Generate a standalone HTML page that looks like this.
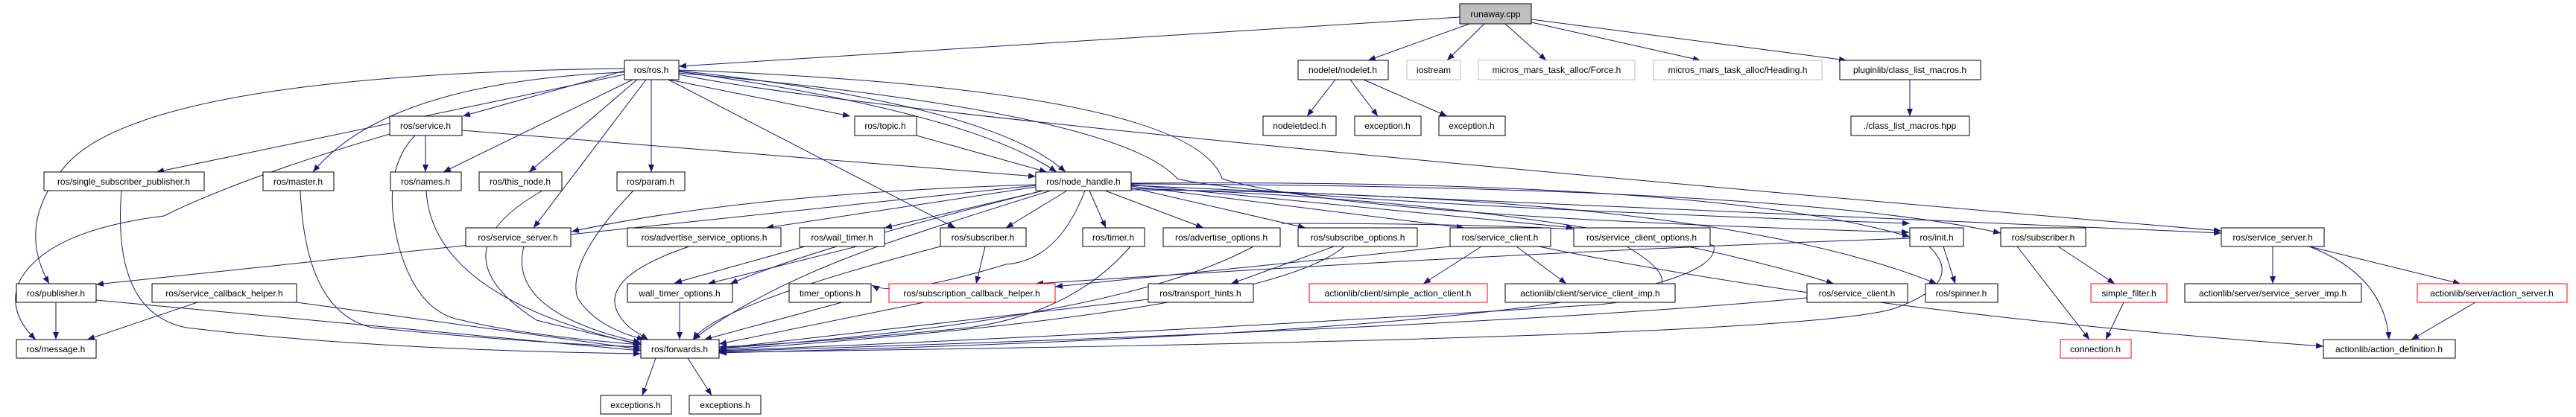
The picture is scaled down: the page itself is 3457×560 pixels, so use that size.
<!DOCTYPE html>
<html><head><meta charset="utf-8"><style>
html,body{margin:0;padding:0;background:#fff;}
svg{display:block;}
text{font-family:"Liberation Sans",sans-serif;font-size:12px;text-anchor:middle;fill:#000;}
.e{fill:none;stroke:#191970;stroke-width:1;}
.n{fill:#fff;stroke:#000;stroke-width:1;}
.g{fill:#fff;stroke:#bfbfbf;stroke-width:1;}
.r{fill:#fff;stroke:#ff0000;stroke-width:1;}
</style></head><body>
<svg width="3457" height="560" viewBox="0 0 3457 560" xmlns="http://www.w3.org/2000/svg">
<defs><marker id="a" markerWidth="10" markerHeight="8" refX="10" refY="4" orient="auto" markerUnits="userSpaceOnUse"><path d="M0,0 L10,4 L0,8 z" fill="#191970"/></marker></defs>
<g class="e" marker-end="url(#a)">
<path d="M1959,23 L911,89"/>
<path d="M1972,32 L1836,81"/>
<path d="M1992,32 L1942,81"/>
<path d="M2020,32 L2075,81"/>
<path d="M2055,30 L2282,81"/>
<path d="M2055,26 L2478,81"/>
<path d="M1792,107 L1754,156"/>
<path d="M1812,107 L1849,156"/>
<path d="M1830,107 L1942,156"/>
<path d="M2563,107 L2563,156"/>
<path d="M838,95 L621,156"/>
<path d="M838,100 L210,231"/>
<path d="M838,97 Q520,110 420,231"/>
<path d="M849,107 L595,231"/>
<path d="M855,107 L710,231"/>
<path d="M874,107 L874,231"/>
<path d="M838,92 Q200,100 90,220 Q20,300 66,381"/>
<path d="M867,107 L716,306"/>
<path d="M898,107 L1141,156"/>
<path d="M911,96 Q1300,150 1418,231"/>
<path d="M911,95 Q1330,140 1430,231"/>
<path d="M897,107 L1282,306"/>
<path d="M911,98 Q1500,150 1580,240 Q1700,270 2563,300"/>
<path d="M911,94 Q1600,120 1640,240 Q1800,290 2562,312"/>
<path d="M911,100 Q1200,160 2981,310"/>
<path d="M571,182 L571,231"/>
<path d="M620,175 L1390,237"/>
<path d="M523,180 Q320,240 220,290 Q60,310 25,380 Q10,420 48,456"/>
<path d="M557,182 Q510,230 535,330 Q560,420 620,430 Q700,450 860,463"/>
<path d="M1230,182 L1405,231"/>
<path d="M1390,248 Q1000,260 767,311"/>
<path d="M1390,249 L129,382"/>
<path d="M1390,251 L1028,306"/>
<path d="M1400,256 L1187,306"/>
<path d="M1432,256 L1350,306"/>
<path d="M1462,256 L1484,306"/>
<path d="M1483,256 L1615,306"/>
<path d="M1518,252 L1752,306"/>
<path d="M1518,250 L1965,306"/>
<path d="M1518,248 L2112,306"/>
<path d="M1518,246 Q2300,240 2563,318"/>
<path d="M1518,247 Q2400,250 2685,313"/>
<path d="M1518,249 L2981,313"/>
<path d="M1518,253 Q2100,270 2461,381"/>
<path d="M1518,255 Q2300,260 2599,381"/>
<path d="M1410,256 Q1300,290 1210,320 Q1030,380 930,456"/>
<path d="M1456,256 Q1420,350 1350,355 Q1200,400 1170,383"/>
<path d="M1400,256 Q1100,330 980,381"/>
<path d="M2563,320 Q2000,340 1390,381"/>
<path d="M1150,331 L950,381"/>
<path d="M1322,331 L1310,381"/>
<path d="M1790,331 L1652,381"/>
<path d="M1946,331 L1416,385"/>
<path d="M1988,331 L1910,381"/>
<path d="M2035,331 L2102,381"/>
<path d="M2065,331 Q2500,420 3118,465"/>
<path d="M2608,331 L2624,381"/>
<path d="M2707,331 L2804,456"/>
<path d="M2762,331 L2838,381"/>
<path d="M2850,406 L2826,456"/>
<path d="M3050,331 L3050,381"/>
<path d="M3099,331 L3302,381"/>
<path d="M3099,331 Q3200,370 3206,456"/>
<path d="M3322,406 L3236,456"/>
<path d="M75,406 L75,456"/>
<path d="M129,403 L860,471"/>
<path d="M265,406 L117,456"/>
<path d="M398,406 L860,469"/>
<path d="M163,256 Q150,420 250,440 Q500,470 860,475"/>
<path d="M403,256 Q410,420 500,440 Q700,460 860,466"/>
<path d="M572,256 Q580,400 860,463"/>
<path d="M728,256 Q580,340 720,430 Q800,450 860,462"/>
<path d="M703,331 Q680,420 860,460"/>
<path d="M850,256 Q760,350 775,400 Q800,440 865,456"/>
<path d="M925,331 Q780,380 845,440 Q860,450 870,456"/>
<path d="M912,406 L912,456"/>
<path d="M1080,331 L905,380"/>
<path d="M1262,331 Q960,410 930,456"/>
<path d="M1130,406 L945,456"/>
<path d="M1240,406 L965,462"/>
<path d="M1517,331 Q1440,420 1300,440 Q1100,460 965,466"/>
<path d="M1682,331 Q1500,430 965,468"/>
<path d="M1541,402 L965,468"/>
<path d="M1804,331 Q1700,420 965,470"/>
<path d="M2183,331 Q2300,400 2130,410 Q1500,450 965,471"/>
<path d="M2425,400 Q2000,440 965,472"/>
<path d="M2589,331 Q2640,380 2540,415 Q2400,455 965,473"/>
<path d="M1720,300 Q2200,300 2300,330 Q2320,440 965,474"/>
<path d="M880,481 L862,531"/>
<path d="M923,481 L955,531"/>
</g>
<rect x="1959" y="5" width="96" height="27" fill="#bfbfbf" stroke="#000"/><text x="2007" y="23">runaway.cpp</text>
<rect class="n" x="838" y="81" width="73" height="26"/><text x="874" y="98">ros/ros.h</text>
<rect class="n" x="1742" y="81" width="121" height="26"/><text x="1802" y="98">nodelet/nodelet.h</text>
<rect class="g" x="1888" y="81" width="72" height="26"/><text x="1924" y="98">iostream</text>
<rect class="g" x="1984" y="81" width="210" height="26"/><text x="2089" y="98">micros_mars_task_alloc/Force.h</text>
<rect class="g" x="2219" y="81" width="226" height="26"/><text x="2332" y="98">micros_mars_task_alloc/Heading.h</text>
<rect class="n" x="2469" y="81" width="189" height="26"/><text x="2563" y="98">pluginlib/class_list_macros.h</text>
<rect class="n" x="523" y="156" width="97" height="26"/><text x="571" y="173">ros/service.h</text>
<rect class="n" x="1147" y="156" width="83" height="26"/><text x="1188" y="173">ros/topic.h</text>
<rect class="n" x="1695" y="156" width="98" height="26"/><text x="1744" y="173">nodeletdecl.h</text>
<rect class="n" x="1818" y="156" width="89" height="26"/><text x="1862" y="173">exception.h</text>
<rect class="n" x="1931" y="156" width="89" height="26"/><text x="1975" y="173">exception.h</text>
<rect class="n" x="2484" y="156" width="159" height="26"/><text x="2563" y="173">./class_list_macros.hpp</text>
<rect class="n" x="59" y="231" width="215" height="25"/><text x="166" y="248">ros/single_subscriber_publisher.h</text>
<rect class="n" x="353" y="231" width="95" height="25"/><text x="400" y="248">ros/master.h</text>
<rect class="n" x="524" y="231" width="95" height="25"/><text x="571" y="248">ros/names.h</text>
<rect class="n" x="643" y="231" width="111" height="25"/><text x="698" y="248">ros/this_node.h</text>
<rect class="n" x="828" y="231" width="91" height="25"/><text x="873" y="248">ros/param.h</text>
<rect class="n" x="1390" y="231" width="128" height="25"/><text x="1454" y="248">ros/node_handle.h</text>
<rect class="n" x="625" y="306" width="141" height="25"/><text x="695" y="323">ros/service_server.h</text>
<rect class="n" x="842" y="306" width="206" height="25"/><text x="945" y="323">ros/advertise_service_options.h</text>
<rect class="n" x="1073" y="306" width="114" height="25"/><text x="1130" y="323">ros/wall_timer.h</text>
<rect class="n" x="1262" y="306" width="115" height="25"/><text x="1319" y="323">ros/subscriber.h</text>
<rect class="n" x="1453" y="306" width="83" height="25"/><text x="1494" y="323">ros/timer.h</text>
<rect class="n" x="1561" y="306" width="157" height="25"/><text x="1639" y="323">ros/advertise_options.h</text>
<rect class="n" x="1742" y="306" width="160" height="25"/><text x="1822" y="323">ros/subscribe_options.h</text>
<rect class="n" x="1946" y="306" width="135" height="25"/><text x="2013" y="323">ros/service_client.h</text>
<rect class="n" x="2112" y="306" width="183" height="25"/><text x="2203" y="323">ros/service_client_options.h</text>
<rect class="n" x="2563" y="306" width="72" height="25"/><text x="2599" y="323">ros/init.h</text>
<rect class="n" x="2685" y="306" width="114" height="25"/><text x="2742" y="323">ros/subscriber.h</text>
<rect class="n" x="2981" y="306" width="138" height="25"/><text x="3050" y="323">ros/service_server.h</text>
<rect class="n" x="22" y="381" width="107" height="25"/><text x="75" y="398">ros/publisher.h</text>
<rect class="n" x="204" y="381" width="194" height="25"/><text x="301" y="398">ros/service_callback_helper.h</text>
<rect class="n" x="842" y="381" width="141" height="25"/><text x="912" y="398">wall_timer_options.h</text>
<rect class="n" x="1059" y="381" width="110" height="25"/><text x="1114" y="398">timer_options.h</text>
<rect class="r" x="1193" y="381" width="223" height="25"/><text x="1304" y="398">ros/subscription_callback_helper.h</text>
<rect class="n" x="1541" y="381" width="141" height="25"/><text x="1611" y="398">ros/transport_hints.h</text>
<rect class="r" x="1757" y="381" width="239" height="25"/><text x="1876" y="398">actionlib/client/simple_action_client.h</text>
<rect class="n" x="2020" y="381" width="228" height="25"/><text x="2134" y="398">actionlib/client/service_client_imp.h</text>
<rect class="n" x="2425" y="381" width="135" height="25"/><text x="2492" y="398">ros/service_client.h</text>
<rect class="n" x="2584" y="381" width="97" height="25"/><text x="2632" y="398">ros/spinner.h</text>
<rect class="r" x="2806" y="381" width="102" height="25"/><text x="2857" y="398">simple_filter.h</text>
<rect class="n" x="2932" y="381" width="237" height="25"/><text x="3050" y="398">actionlib/server/service_server_imp.h</text>
<rect class="r" x="3244" y="381" width="201" height="25"/><text x="3344" y="398">actionlib/server/action_server.h</text>
<rect class="n" x="22" y="456" width="107" height="25"/><text x="75" y="473">ros/message.h</text>
<rect class="n" x="860" y="456" width="105" height="25"/><text x="912" y="473">ros/forwards.h</text>
<rect class="r" x="2765" y="456" width="95" height="25"/><text x="2812" y="473">connection.h</text>
<rect class="n" x="3118" y="456" width="177" height="25"/><text x="3206" y="473">actionlib/action_definition.h</text>
<rect class="n" x="806" y="531" width="95" height="25"/><text x="853" y="548">exceptions.h</text>
<rect class="n" x="925" y="531" width="96" height="25"/><text x="973" y="548">exceptions.h</text>
</svg>
</body></html>
